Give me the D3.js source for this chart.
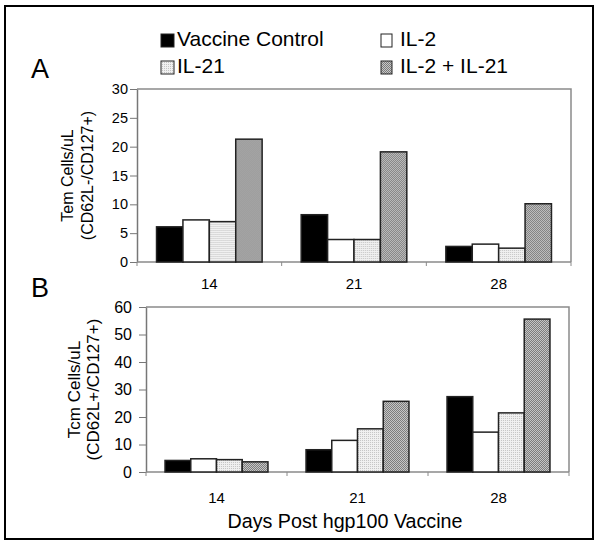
<!DOCTYPE html>
<html>
<head>
<meta charset="utf-8">
<script src="https://cdn.jsdelivr.net/npm/d3@7"></script>
<style>
  html, body { margin: 0; padding: 0; background: #fff; }
  svg { display: block; }
  text { font-family: "Liberation Sans", Arial, sans-serif; fill: #000; }
</style>
</head>
<body>
<svg id="chart" width="600" height="549"></svg>
<script>
// ---- data ----
const days = ["14", "21", "28"];
const seriesNames = ["Vaccine Control", "IL-2", "IL-21", "IL-2 + IL-21"];

// Panel A: Tem cells/uL (CD62L-/CD127+)
const temVaccineControl = [6.1, 8.2, 2.7];
const temIL2 = [7.3, 3.9, 3.1];
const temIL21 = [7.0, 3.9, 2.4];
const temIL2IL21 = [21.3, 19.1, 10.1];
const temTicks = [0, 5, 10, 15, 20, 25, 30];

// Panel B: Tcm cells/uL (CD62L+/CD127+)
const tcmVaccineControl = [4.2, 8.1, 27.4];
const tcmIL2 = [4.8, 11.5, 14.5];
const tcmIL21 = [4.5, 15.7, 21.5];
const tcmIL2IL21 = [3.7, 25.7, 55.6];
const tcmTicks = [0, 10, 20, 30, 40, 50, 60];

// ---- drawing ----
const svg = d3.select("#chart");
const defs = svg.append("defs");

// light dotted pattern (IL-21)
const p1 = defs.append("pattern").attr("id", "patLight")
  .attr("width", 2).attr("height", 2).attr("patternUnits", "userSpaceOnUse");
p1.append("rect").attr("width", 2).attr("height", 2).attr("fill", "#f0f0f0");
p1.append("rect").attr("width", 1).attr("height", 1).attr("fill", "#c4c4c4");

// dark checker pattern (IL-2 + IL-21)
const p2 = defs.append("pattern").attr("id", "patDark")
  .attr("width", 2).attr("height", 2).attr("patternUnits", "userSpaceOnUse");
p2.append("rect").attr("width", 2).attr("height", 2).attr("fill", "#c8c8c8");
p2.append("rect").attr("width", 1).attr("height", 1).attr("fill", "#7a7a7a");
p2.append("rect").attr("x", 1).attr("y", 1).attr("width", 1).attr("height", 1).attr("fill", "#7a7a7a");

const fills = ["#000000", "#ffffff", "url(#patLight)", "url(#patDark)"];
const color = d3.scaleOrdinal().domain(seriesNames).range(fills);

// outer border
svg.append("rect").attr("x", 5).attr("y", 6).attr("width", 588).attr("height", 533)
  .attr("fill", "none").attr("stroke", "#000").attr("stroke-width", 2);

// legend
const legendItems = [
  { name: seriesNames[0], x: 161, y: 34, w: 13 },
  { name: seriesNames[1], x: 381, y: 34, w: 11 },
  { name: seriesNames[2], x: 161, y: 61, w: 13 },
  { name: seriesNames[3], x: 381, y: 61, w: 11 }
];
const lg = svg.append("g");
legendItems.forEach(it => {
  lg.append("rect").attr("x", it.x).attr("y", it.y).attr("width", it.w).attr("height", 13)
    .attr("fill", color(it.name)).attr("stroke", "#222").attr("stroke-width", 1);
  lg.append("text").attr("x", it.x + (it.w === 13 ? 16 : 19)).attr("y", it.y + 12)
    .attr("font-size", 21).text(it.name);
});

function panel(cfg) {
  const g = svg.append("g");
  const x0 = d3.scaleBand().domain(days).range([cfg.left, cfg.right])
    .paddingInner(0.27).paddingOuter(0.135);
  const x1 = d3.scaleBand().domain(seriesNames).range([0, x0.bandwidth()]);
  const y = d3.scaleLinear().domain([0, cfg.ticks[cfg.ticks.length - 1]]).range([cfg.bottom, cfg.top]);

  // frame (top/right)
  g.append("path")
    .attr("d", `M${cfg.left},${cfg.top}H${cfg.right}V${cfg.bottom}`)
    .attr("fill", "none").attr("stroke", "#8a8a8a").attr("stroke-width", 1.5);

  // y axis
  const ya = g.append("g").attr("transform", `translate(${cfg.left},0)`)
    .call(d3.axisLeft(y).tickValues(cfg.ticks).tickSize(7).tickPadding(cfg.tickPad).tickSizeOuter(0));
  ya.select(".domain").attr("stroke", "#777").attr("stroke-width", 1.5);
  ya.selectAll(".tick line").attr("stroke", "#777");
  ya.selectAll(".tick text").attr("font-size", cfg.tickFont)
    .attr("font-family", "'Liberation Sans', Arial, sans-serif").attr("fill", "#000");

  // x axis line + boundary ticks
  const step = x0.step();
  const start = cfg.left;
  g.append("line").attr("x1", cfg.left).attr("x2", cfg.right)
    .attr("y1", cfg.bottom).attr("y2", cfg.bottom)
    .attr("stroke", "#8a8a8a").attr("stroke-width", 1.5);
  d3.range(days.length + 1).forEach(i => {
    const xx = start + i * step;
    g.append("line").attr("x1", xx).attr("x2", xx)
      .attr("y1", cfg.bottom).attr("y2", cfg.bottom + 4)
      .attr("stroke", "#8a8a8a").attr("stroke-width", 1);
  });
  g.selectAll(".xlab").data(days).join("text")
    .attr("class", "xlab")
    .attr("x", d => x0(d) + x0.bandwidth() / 2)
    .attr("y", cfg.xLabY)
    .attr("text-anchor", "middle").attr("font-size", 15).text(d => d);

  // bars
  const rows = days.map((d, i) => ({ day: d, vals: cfg.series.map((s, j) => ({ name: seriesNames[j], v: s[i] })) }));
  const grp = g.selectAll(".grp").data(rows).join("g")
    .attr("transform", d => `translate(${x0(d.day)},0)`);
  grp.selectAll("rect").data(d => d.vals).join("rect")
    .attr("x", d => x1(d.name))
    .attr("width", x1.bandwidth())
    .attr("y", d => y(d.v))
    .attr("height", d => y(0) - y(d.v))
    .attr("fill", d => color(d.name))
    .attr("stroke", "#222").attr("stroke-width", 1.5);

  // y title
  const cy = (cfg.top + cfg.bottom) / 2;
  cfg.yTitle.forEach((t, k) => {
    g.append("text")
      .attr("transform", `translate(${cfg.yTitleX[k]},${cy}) rotate(-90)`)
      .attr("text-anchor", "middle").attr("font-size", cfg.yTitleFont).text(t);
  });

  // panel letter
  svg.append("text").attr("x", cfg.letterX).attr("y", cfg.letterY)
    .attr("font-size", 27).text(cfg.letter);
}

panel({
  left: 137, right: 571, top: 89, bottom: 262,
  ticks: temTicks, tickPad: 2, tickFont: 14.5,
  series: [temVaccineControl, temIL2, temIL21, temIL2IL21],
  xLabY: 289,
  yTitle: ["Tem Cells/uL", "(CD62L-/CD127+)"], yTitleX: [73, 93], yTitleFont: 16,
  letter: "A", letterX: 31, letterY: 78
});

panel({
  left: 146, right: 569, top: 307, bottom: 472,
  ticks: tcmTicks, tickPad: 7, tickFont: 16,
  series: [tcmVaccineControl, tcmIL2, tcmIL21, tcmIL2IL21],
  xLabY: 503,
  yTitle: ["Tcm Cells/uL", "(CD62L+/CD127+)"], yTitleX: [80, 99], yTitleFont: 17,
  letter: "B", letterX: 31, letterY: 297
});

svg.append("text").attr("x", 345).attr("y", 528).attr("text-anchor", "middle")
  .attr("font-size", 19.7).text("Days Post hgp100 Vaccine");
</script>
</body>
</html>
